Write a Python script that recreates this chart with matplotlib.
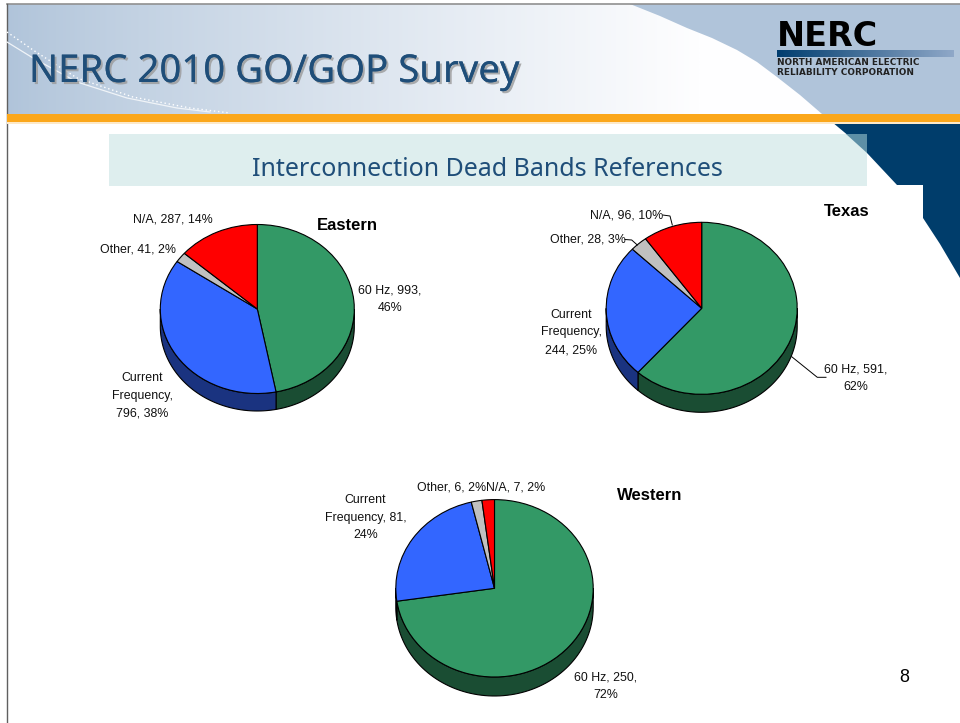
import numpy as np
import matplotlib
matplotlib.use("Agg")
import matplotlib.pyplot as plt
from matplotlib.patches import Polygon, Rectangle
import matplotlib.patheffects as pe

W, H = 960, 723

categories = ["60 Hz", "Current Frequency", "Other", "N/A"]
eastern_values = [993, 796, 41, 287]
texas_values = [591, 244, 28, 96]
western_values = [250, 81, 6, 7]

top_colors = ["#339966", "#3366ff", "#c0c0c0", "#ff0000"]
side_colors = ["#1a4d33", "#1a3380", "#606060", "#800000"]

# text, x, y in pixels
eastern_labels = [("N/A, 287, 14%", 173, 220), ("Other, 41, 2%", 138, 249.5),
                  ("60 Hz, 993,\n46%", 390, 299), ("Current\nFrequency,\n796, 38%", 142.5, 395.5)]
texas_labels = [("N/A, 96, 10%", 626.5, 215), ("Other, 28, 3%", 587.5, 240),
                ("Current\nFrequency,\n244, 25%", 571.5, 332.5), ("60 Hz, 591,\n62%", 856, 378)]
western_labels = [("Other, 6, 2%", 451.5, 488), ("N/A, 7, 2%", 515.5, 488),
                  ("Current\nFrequency, 81,\n24%", 365.5, 517.5), ("60 Hz, 250,\n72%", 606, 686)]

def pie_3d(fig, values, cx, cy, rx, ry, depth):
    ax = fig.add_axes([(cx - rx) / W, 1 - (cy + ry) / H, 2 * rx / W, 2 * ry / H])
    ax.pie(values, colors=top_colors, startangle=90, counterclock=False, radius=1,
           wedgeprops={"edgecolor": "black", "linewidth": 0.8, "zorder": 3})
    ax.set_aspect("auto")
    ax.set_xlim(-1, 1)
    ax.set_ylim(-1, 1)
    # side wall below the front edge of the pie
    d = depth / ry
    edges = np.cumsum([0] + values) / sum(values) * 360
    for i in range(len(values)):
        a0 = 90 - edges[i]
        a1 = 90 - edges[i + 1]
        # lower half of the ellipse runs from 0 to -180 degrees
        lo = max(a1, -180)
        hi = min(a0, 0)
        if hi <= lo:
            continue
        t = np.radians(np.linspace(hi, lo, 80))
        x = np.cos(t)
        y = np.sin(t)
        pts = np.r_[np.c_[x, y], np.c_[x[::-1], y[::-1] - d]]
        ax.add_patch(Polygon(pts, closed=True, facecolor=side_colors[i], edgecolor="black",
                             linewidth=0.8, clip_on=False, zorder=2))
    return ax

fig = plt.figure(figsize=(W / 100, H / 100), dpi=100, facecolor="white")
bg = fig.add_axes([0, 0, 1, 1])
bg.set_xlim(0, W)
bg.set_ylim(H, 0)
bg.axis("off")

# header background
grad = np.linspace(0, 1, 256) ** 0.85
c0 = np.array([176, 196, 218]) / 255
c1 = np.array([254, 254, 255]) / 255
img = (c0[None, :] + (c1 - c0)[None, :] * grad[:, None])[None, :, :]
bg.imshow(img, extent=[7, 700, 114, 4], aspect="auto", zorder=1)
bg.add_patch(Rectangle((700, 4), 260, 110, facecolor="#fefeff", edgecolor="none", zorder=1))
bg.set_xlim(0, W)
bg.set_ylim(H, 0)
curve = [(630, 4), (660, 16), (687, 28), (712, 38), (737, 50), (757, 62), (777, 77), (800, 95), (822, 114), (960, 114), (960, 4)]
bg.add_patch(Polygon(curve, closed=True, facecolor="#b0c4da", edgecolor="none", zorder=2))
bg.plot([7, 960], [3.5, 3.5], color="#909090", lw=1.2, zorder=3)
bg.plot([6.5, 6.5], [4, H], color="#606060", lw=1.0, zorder=3)

# swoosh
bg.plot([7, 33, 77, 127, 177, 210], [42, 58, 82, 98, 108, 112], color="#f0f4f8", lw=0.9, zorder=3)
bg.plot([7, 33, 77, 133, 190, 230], [32, 50, 78, 97, 108, 113], color="white", lw=1.0, ls=(0, (1, 2)), zorder=3)

# orange band and corner
bg.add_patch(Rectangle((7, 114), 953, 8, facecolor="#fba71b", edgecolor="none", zorder=4))
bg.add_patch(Rectangle((7, 122), 953, 1.5, facecolor="#fde9c8", edgecolor="none", zorder=4))
navy = [(832, 122), (850, 137), (867, 153), (897, 185), (923, 185), (923, 218), (940, 244), (960, 278), (960, 122)]
bg.add_patch(Polygon(navy, closed=True, facecolor="#003d6b", edgecolor="none", zorder=3))

# subtitle strip
bg.add_patch(Rectangle((109, 134), 758, 51.5, facecolor="#deeeee", edgecolor="none", zorder=5))
bg.add_patch(Polygon([(846, 134), (867, 134), (867, 153)], closed=True, facecolor="#5d8fa6", edgecolor="none", zorder=6))

overlay = fig.add_axes([0, 0, 1, 1])
overlay.set_xlim(0, W)
overlay.set_ylim(H, 0)
overlay.axis("off")
overlay.patch.set_alpha(0)

pie_3d(fig, eastern_values, 257.3, 309, 97, 84.5, 17.5)
pie_3d(fig, texas_values, 701.7, 308.3, 95.5, 86, 18)
pie_3d(fig, western_values, 494.5, 588.3, 98.7, 88.7, 19)

# overlay has to sit over the pies
overlay.set_zorder(10)

title = overlay.text(29, 72, "NERC 2010 GO/GOP Survey", fontsize=27.6, family="Noto Sans", color="#1f4e79",
                     ha="left", va="center")
title.set_path_effects([pe.withSimplePatchShadow(offset=(1.5, -1.5), shadow_rgbFace="#9a9a9a", alpha=0.8), pe.Normal()])
overlay.text(487.5, 169, "Interconnection Dead Bands References", fontsize=18, family="Noto Sans",
             color="#1f4e79", ha="center", va="center")

# logo
overlay.text(777, 36, "NERC", fontsize=24, family="DejaVu Sans", weight="bold", color="black", ha="left", va="center")
bar = np.linspace(0, 1, 128)[None, :, None] * (np.array([143, 168, 200]) - np.array([0, 61, 111]))[None, None, :] + np.array([0, 61, 111])[None, None, :]
overlay.imshow(bar / 255, extent=[777, 954, 57, 50], aspect="auto")
overlay.set_xlim(0, W)
overlay.set_ylim(H, 0)
overlay.text(777, 62.5, "NORTH AMERICAN ELECTRIC", fontsize=6.4, family="DejaVu Sans", weight="bold", color="#222222", ha="left", va="center")
overlay.text(777, 72.5, "RELIABILITY CORPORATION", fontsize=6.4, family="DejaVu Sans", weight="bold", color="#222222", ha="left", va="center")

for labels in (eastern_labels, texas_labels, western_labels):
    for txt, x, y in labels:
        overlay.text(x, y, txt, fontsize=8.9, family="Liberation Sans", color="#111111",
                     ha="center", va="center", linespacing=1.62)

overlay.text(347.5, 226, "Eastern", fontsize=12, family="Liberation Sans", weight="bold", ha="center", va="center")
overlay.text(847, 212, "Texas", fontsize=12, family="Liberation Sans", weight="bold", ha="center", va="center")
overlay.text(650, 495, "Western", fontsize=12, family="Liberation Sans", weight="bold", ha="center", va="center")
overlay.text(904, 677, "8", fontsize=13, family="Liberation Sans", ha="center", va="center")

# leader lines
overlay.plot([662.7, 670, 672.3], [215, 216, 225], color="black", lw=0.7)
overlay.plot([625, 631.7, 637.3], [239.5, 240, 245], color="black", lw=0.7)
overlay.plot([791.7, 817.3, 826], [356.7, 377.3, 377.3], color="black", lw=0.7)

fig.savefig("out.png", dpi=100)
